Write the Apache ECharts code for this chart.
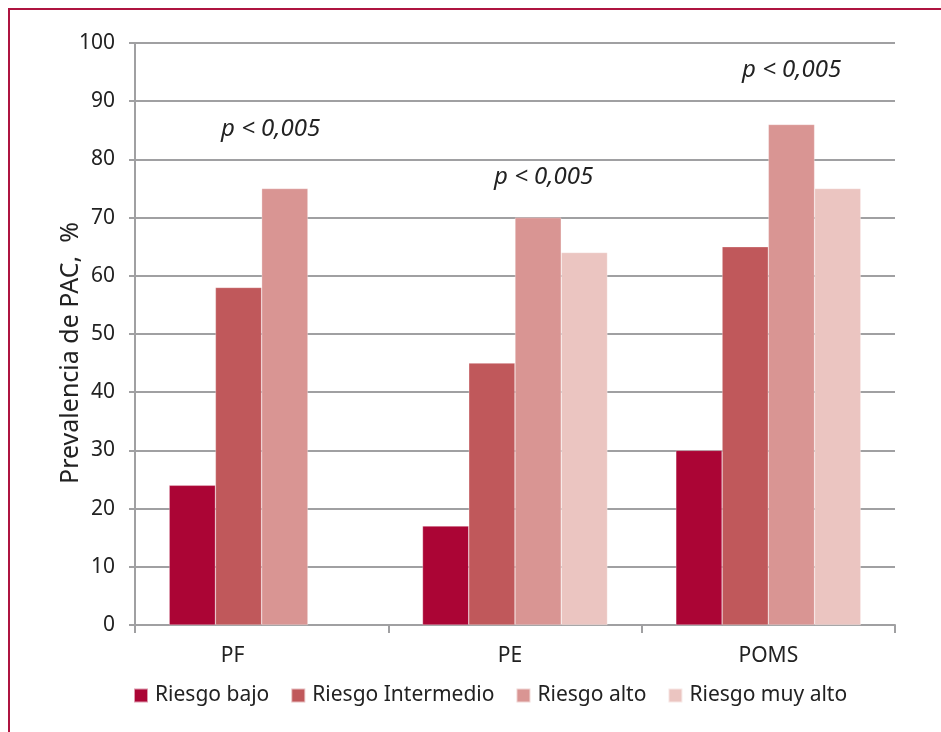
<!DOCTYPE html>
<html>
<head>
<meta charset="utf-8">
<script src="https://cdn.jsdelivr.net/npm/echarts@6/dist/echarts.min.js"></script>
<style>
  html, body { margin: 0; padding: 0; background: #fff; }
  #chart { width: 941px; height: 732px; }
</style>
</head>
<body>
<div id="chart"></div>
<script>
// Categories and series values (prevalence, %)
const categories = ['PF', 'PE', 'POMS'];
const seriesNames = ['Riesgo bajo', 'Riesgo Intermedio', 'Riesgo alto', 'Riesgo muy alto'];
const riesgoBajo = [24, 17, 30];
const riesgoIntermedio = [58, 45, 65];
const riesgoAlto = [75, 70, 86];
const riesgoMuyAlto = [null, 64, 75];
const yTicks = [0, 10, 20, 30, 40, 50, 60, 70, 80, 90, 100];
const yAxisTitle = 'Prevalencia de PAC,  %';
const pLabel = 'p < 0,005';

const colors = ['#AB0535', '#C0585B', '#D99593', '#EBC5C1'];
const font = '"Noto Sans", "Open Sans", sans-serif';
const seriesData = [riesgoBajo, riesgoIntermedio, riesgoAlto, riesgoMuyAlto];

// The first category label sits over its three bars rather than the full slot
const labelPadding = [[0, 58, 0, 0], [0, 10, 0, 0], [0, 0, 0, 0]];

const chart = echarts.init(document.getElementById('chart'));
chart.setOption({
  animation: false,
  color: colors,
  grid: { left: 135, right: 46, top: 43, bottom: 107 },
  legend: {
    top: 685,
    left: 133,
    padding: 0,
    itemWidth: 14,
    itemHeight: 14,
    itemGap: 21,
    icon: 'rect',
    textStyle: { fontFamily: font, fontSize: 21, color: '#222', padding: [0, 0, 0, 2] },
    data: seriesNames
  },
  xAxis: {
    type: 'category',
    data: categories.map((c, i) => ({ value: c, textStyle: { padding: labelPadding[i] } })),
    axisLine: { lineStyle: { color: '#a0a0a2', width: 2 } },
    axisTick: { show: true, length: 8, lineStyle: { color: '#a0a0a2', width: 2 } },
    axisLabel: { fontFamily: font, fontSize: 21, color: '#222', margin: 21 }
  },
  yAxis: {
    type: 'value',
    min: yTicks[0],
    max: yTicks[yTicks.length - 1],
    interval: 10,
    axisLine: { show: true, lineStyle: { color: '#a0a0a2', width: 2 } },
    axisTick: { show: true, length: 6, lineStyle: { color: '#a0a0a2', width: 2 } },
    axisLabel: { fontFamily: font, fontSize: 21, color: '#222', margin: 20 },
    splitLine: { lineStyle: { color: '#a0a0a2', width: 2 } }
  },
  series: seriesNames.map((name, i) => ({
    name,
    type: 'bar',
    data: seriesData[i],
    barGap: '0%',
    barCategoryGap: '27%',
    itemStyle: { color: colors[i], borderColor: 'rgba(255,255,255,0.6)', borderWidth: 0.5 }
  })),
  graphic: [
    {
      type: 'rect',
      shape: { x: 9, y: 9, width: 1000, height: 1000 },
      style: { fill: 'none', stroke: '#AE1440', lineWidth: 2 },
      silent: true
    },
    {
      type: 'text',
      x: 71, y: 353,
      rotation: Math.PI / 2,
      style: { text: yAxisTitle, font: '25px ' + font, fill: '#222', textAlign: 'center', textVerticalAlign: 'middle' }
    },
    { type: 'text', left: 221, top: 117, style: { text: pLabel, font: 'italic 24px ' + font, fill: '#222' } },
    { type: 'text', left: 494, top: 165, style: { text: pLabel, font: 'italic 24px ' + font, fill: '#222' } },
    { type: 'text', left: 742, top: 58, style: { text: pLabel, font: 'italic 24px ' + font, fill: '#222' } }
  ]
});
</script>
</body>
</html>
